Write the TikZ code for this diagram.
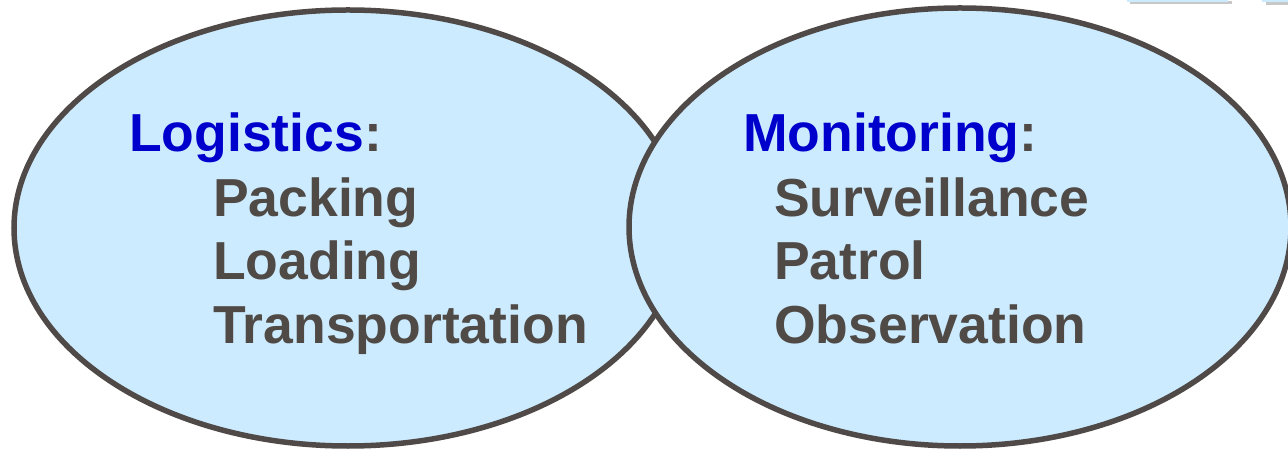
\documentclass[tikz,border=0pt]{standalone}
\usepackage{fontspec}
\setmainfont{Liberation Sans}
\usetikzlibrary{shapes.geometric}
\definecolor{bubblefill}{HTML}{CCEBFF}
\definecolor{rimgray}{HTML}{4F4A47}
\definecolor{headblue}{HTML}{0000CC}
\definecolor{itemgray}{HTML}{504A46}
\definecolor{tabblue}{HTML}{CCEBFF}
\definecolor{tabshade}{HTML}{C8C8C8}
\tikzset{
  bubble/.style={ellipse, draw=rimgray, fill=bubblefill, line width=5.5bp, inner sep=0pt},
  label/.style={anchor=base west, inner sep=0pt, font=\fontsize{53.5bp}{64bp}\selectfont\bfseries},
  heading/.style={label, text=headblue},
  item/.style={label, text=itemgray},
}
\begin{document}
\begin{tikzpicture}[x=1bp, y=-1bp]
  \useasboundingbox (0,0) rectangle (1288,452);
  \fill[white] (0,0) rectangle (1288,452);

  % small tabs along the top edge
  \fill[tabshade] (1130,1) rectangle (1232,4.5);
  \fill[tabblue] (1127,0) rectangle (1228,2.5);
  \fill[tabshade] (1266,1) rectangle (1288,5);
  \fill[tabblue] (1262,0) rectangle (1288,2.5);

  % the two overlapping fields
  \node[bubble, minimum width=668bp, minimum height=436bp] (logi) at (348,228) {};
  \node[bubble, minimum width=662bp, minimum height=438bp] (moni) at (960,227) {};

  % left field
  \node[heading] (logihead) at (129,152) {Logistics\textcolor{itemgray}{:}};
  \node[item] (packing) at (213,216.5) {Packing};
  \node[item] (loading) at (213,280) {Loading};
  \node[item] (transport) at (213,343.5) {Transportation};

  % right field
  \node[heading] (monihead) at (743,152) {Monitoring\textcolor{itemgray}{:}};
  \node[item] (surveil) at (774,216.5) {Surveillance};
  \node[item] (patrol) at (774,280) {Patrol};
  \node[item] (observe) at (774,343.5) {Observation};
\end{tikzpicture}
\end{document}
